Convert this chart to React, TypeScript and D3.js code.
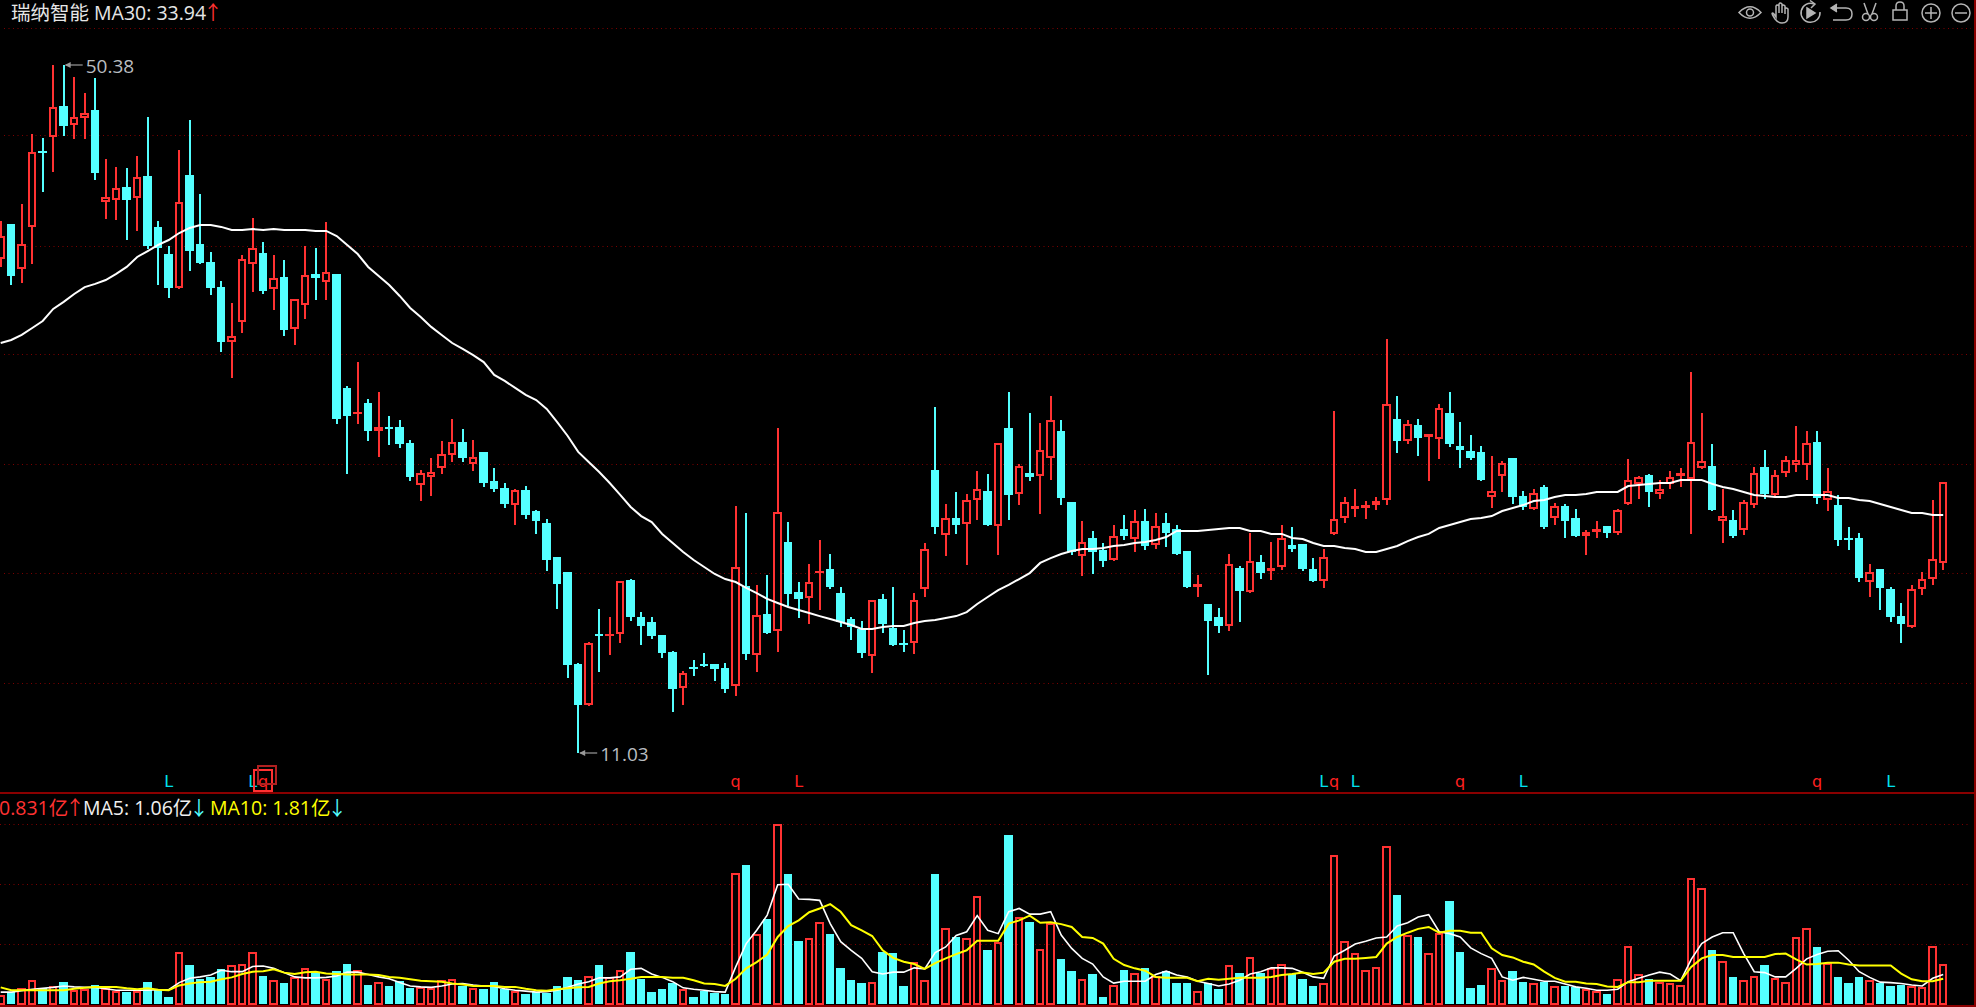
import React, { useEffect, useRef } from 'react';
import * as d3 from 'd3';

const highs = [
  41.46,41.29,42.43,46.43,46.21,50.38,50.38,49.69,48.78,49.64,
  45.00,44.55,44.49,45.18,47.41,41.46,40.03,45.52,47.23,43.00,
  39.68,38.02,36.77,39.51,41.63,40.26,39.51,39.23,36.98,40.03,
  39.91,41.40,38.43,32.02,33.39,31.28,31.68,30.30,30.08,28.93,
  27.22,27.90,28.87,30.13,29.56,28.93,28.25,27.33,26.47,26.13,
  26.30,24.93,24.41,22.24,21.38,16.18,17.38,19.27,18.81,20.87,
  20.98,19.09,18.81,17.78,16.86,15.72,16.35,16.75,16.12,16.18,
  25.16,24.76,20.64,21.21,29.62,24.24,20.81,21.84,23.21,22.41,
  20.52,18.81,18.58,19.78,20.12,20.52,18.06,20.18,23.04,30.82,
  25.27,25.96,25.84,27.16,26.99,28.76,31.68,27.56,30.48,29.90,
  31.45,30.08,25.39,24.30,23.73,23.04,24.07,24.64,24.93,24.99,
  24.76,24.76,24.07,22.58,21.21,19.55,19.32,22.41,21.72,23.61,
  22.35,23.10,24.07,23.96,22.98,22.18,22.70,30.59,25.67,26.13,
  25.44,25.67,34.71,31.45,30.08,30.13,29.28,30.99,31.68,29.96,
  29.22,28.59,28.02,27.73,27.90,26.01,26.13,26.36,25.33,25.27,
  24.99,23.78,24.30,24.01,24.99,27.85,26.87,26.99,26.64,27.16,
  27.33,32.82,30.48,28.70,26.13,24.93,25.50,27.39,28.36,27.22,
  28.02,29.73,29.45,29.45,27.33,25.79,23.96,23.61,21.84,21.55,
  20.52,19.61,20.64,21.38,25.50,26.53,
];

const lows = [
  38.85,37.80,37.93,39.00,43.12,44.26,46.32,46.15,46.15,43.80,
  41.57,41.51,40.37,40.88,39.85,37.80,37.05,37.57,38.60,39.00,
  37.22,33.96,32.47,35.03,37.39,37.28,36.36,34.88,34.36,35.85,
  36.94,36.94,29.85,26.99,29.85,28.87,27.96,28.65,28.47,26.59,
  25.44,25.73,26.99,27.67,27.67,27.16,26.24,25.96,25.04,24.07,
  24.41,23.56,21.44,19.27,15.32,11.03,13.72,15.66,16.63,17.32,
  18.58,17.21,17.55,16.46,13.37,13.77,15.43,15.95,15.15,14.46,
  14.29,16.35,15.66,17.84,16.81,19.44,18.75,18.41,19.21,20.41,
  18.24,17.49,16.46,15.60,17.89,17.15,16.81,16.69,19.95,23.56,
  22.30,23.56,21.78,24.36,24.01,22.35,24.36,25.21,26.59,24.70,
  26.64,25.21,22.35,21.15,21.27,21.67,22.01,23.21,22.53,22.64,
  22.70,22.81,22.35,20.47,19.95,15.49,17.89,18.01,18.52,20.18,
  20.98,20.92,21.50,22.53,21.44,20.81,20.47,23.50,24.18,24.53,
  24.41,24.93,25.21,28.19,28.70,28.02,26.59,27.85,28.53,27.33,
  27.79,26.59,25.04,25.96,25.27,24.93,24.93,23.84,24.07,23.33,
  23.38,22.35,23.33,23.33,23.50,25.21,25.56,25.10,25.56,26.13,
  26.24,23.56,27.27,24.87,23.04,23.33,23.50,25.04,25.56,25.73,
  26.82,27.10,26.64,25.27,24.87,22.87,22.64,20.81,19.95,19.21,
  18.52,17.32,18.18,20.07,20.64,21.50,
];

const opens = [
  39.29,41.29,38.73,41.13,45.46,46.28,48.04,46.93,47.33,47.81,
  42.52,42.64,43.40,42.79,44.03,41.11,39.57,37.62,44.09,40.14,
  39.11,37.68,34.55,35.66,39.02,39.63,37.57,38.25,35.30,36.67,
  38.42,37.99,38.43,31.91,30.44,31.05,29.45,29.68,29.68,28.76,
  26.36,26.82,27.33,28.07,28.82,27.56,28.25,26.59,26.19,25.21,
  26.07,24.87,24.18,22.24,21.38,16.12,13.77,17.84,17.72,17.84,
  20.92,18.81,18.52,17.78,16.81,14.75,15.95,16.12,16.12,15.89,
  14.86,20.58,16.63,18.98,18.01,23.10,20.24,19.89,21.32,21.55,
  20.18,18.69,18.12,16.58,19.84,18.18,17.32,17.32,20.41,27.22,
  23.50,24.47,24.13,25.50,26.01,24.01,29.62,25.84,27.04,26.87,
  27.90,29.45,25.39,22.30,23.33,22.64,22.07,23.84,23.27,24.30,
  22.93,24.18,23.84,22.58,20.52,19.55,18.81,18.29,21.61,20.24,
  21.95,21.50,21.67,22.93,22.98,21.55,20.87,23.56,24.47,24.99,
  25.10,25.21,25.50,30.13,28.87,29.79,29.11,28.99,30.48,28.59,
  28.30,28.25,25.67,26.87,27.90,25.73,24.99,26.24,24.47,25.16,
  24.47,23.44,23.73,24.01,23.61,25.27,26.42,26.93,25.84,26.42,
  26.87,26.70,27.33,27.44,24.30,24.36,23.78,25.21,27.39,25.79,
  27.04,27.50,27.50,28.82,25.50,25.21,23.33,23.33,20.81,21.55,
  20.41,18.86,18.24,20.41,20.98,21.90,
];

const closes = [
  40.62,38.31,40.12,45.42,45.35,48.00,46.89,47.43,47.65,44.20,
  42.85,43.35,42.66,43.99,40.03,39.91,37.62,42.52,39.74,39.03,
  37.62,34.53,34.90,39.26,39.93,37.45,38.21,35.22,36.98,38.39,
  38.20,38.56,30.13,30.30,30.55,29.45,29.68,29.56,28.70,26.82,
  27.04,27.10,28.13,28.82,27.90,27.96,26.47,26.13,25.27,26.07,
  24.64,24.30,22.07,20.70,16.06,13.77,17.32,17.72,17.84,20.87,
  18.81,18.29,17.72,16.75,14.69,15.60,15.83,16.00,15.83,14.69,
  21.67,16.69,18.92,17.89,24.81,20.12,19.84,20.81,21.44,20.52,
  18.52,18.24,16.75,19.78,18.41,17.21,17.21,19.78,22.70,23.96,
  24.47,24.07,25.50,26.13,24.07,28.76,25.79,27.44,26.82,28.36,
  30.08,25.61,22.53,23.10,22.53,22.01,23.44,23.44,24.30,22.87,
  24.01,23.61,22.41,20.52,20.70,18.58,18.29,21.84,20.29,22.01,
  21.32,21.61,23.33,22.70,21.55,20.87,22.24,24.41,25.39,25.16,
  25.21,25.44,30.99,28.87,29.85,29.05,29.28,30.76,28.70,28.36,
  27.90,26.64,26.01,27.62,25.67,25.10,25.90,23.96,25.16,24.30,
  23.44,23.67,23.84,23.61,24.93,26.64,26.82,25.96,26.13,26.82,
  27.04,28.82,27.73,24.93,24.58,23.44,25.39,27.04,25.84,26.93,
  27.79,27.79,28.76,25.61,26.01,23.21,23.21,21.04,21.38,20.47,
  18.81,18.41,20.41,20.98,22.13,26.53,
];

const ma30 = [
  34.48,34.65,34.94,35.34,35.74,36.43,36.83,37.28,37.68,37.86,
  38.08,38.43,38.83,39.40,39.74,40.09,40.37,40.77,41.06,41.23,
  41.23,41.12,40.94,40.94,41.00,40.94,41.00,40.94,40.94,40.94,
  40.89,40.89,40.60,40.09,39.57,38.83,38.31,37.80,37.17,36.48,
  35.97,35.40,34.94,34.48,34.14,33.79,33.39,32.65,32.31,31.91,
  31.51,31.22,30.71,29.96,29.16,28.25,27.67,27.10,26.47,25.79,
  25.10,24.58,24.24,23.56,23.04,22.53,22.07,21.67,21.27,20.98,
  20.81,20.47,20.18,19.84,19.61,19.38,19.21,19.04,18.86,18.69,
  18.52,18.35,18.12,18.12,18.24,18.29,18.29,18.46,18.58,18.64,
  18.75,18.86,19.09,19.55,19.95,20.35,20.64,20.98,21.32,21.90,
  22.18,22.41,22.58,22.70,22.70,22.75,22.87,22.93,23.04,23.10,
  23.21,23.38,23.73,23.73,23.73,23.78,23.84,23.90,23.90,23.73,
  23.73,23.56,23.56,23.33,23.27,23.04,22.87,22.87,22.75,22.70,
  22.53,22.53,22.70,22.87,23.15,23.38,23.56,23.90,24.07,24.24,
  24.41,24.47,24.58,24.87,25.04,25.21,25.44,25.50,25.67,25.79,
  25.79,25.84,25.96,25.96,25.96,26.30,26.36,26.42,26.47,26.47,
  26.64,26.64,26.64,26.42,26.24,26.13,25.96,25.79,25.73,25.67,
  25.67,25.79,25.79,25.79,25.79,25.61,25.61,25.50,25.44,25.27,
  25.10,24.93,24.76,24.76,24.64,24.64,
];

// volume, in 亿
const volumes = [
  .189,.259,.329,.497,.329,.371,.462,.287,.308,.392,
  .329,.266,.259,.266,.462,.294,.140,1.085,.819,.518,
  .567,.728,.812,.833,1.085,.588,.497,.441,.560,.749,
  .644,.518,.693,.840,.707,.399,.455,.378,.483,.336,
  .350,.336,.497,.518,.378,.329,.308,.462,.308,.266,
  .210,.252,.231,.378,.567,.504,.581,.819,.560,.707,
  1.092,.525,.252,.315,.441,.308,.147,.273,.231,.210,
  2.765,2.919,1.463,1.785,3.794,2.730,1.323,1.379,1.715,1.470,
  .756,.504,.441,.455,1.092,1.071,.378,.889,.497,2.730,
  1.589,1.407,1.379,2.282,1.134,1.309,3.549,1.820,1.722,1.148,
  1.694,.945,.693,.518,.630,.147,.392,.714,.644,.756,
  .595,.693,.441,.441,.266,.441,.315,.812,.651,.994,
  .644,.763,.833,.630,.525,.378,.434,3.143,1.330,1.078,
  .707,.770,3.332,2.289,1.442,1.407,1.064,1.484,2.163,1.092,
  .336,.399,.749,.497,.693,.462,.434,.469,.371,.378,
  .364,.322,.266,.210,.518,1.211,.623,.525,.455,.434,
  .392,2.660,2.450,1.134,.896,.567,.497,.581,.819,.539,
  .455,1.400,1.589,1.197,.854,.567,.441,.567,.497,.441,
  .378,.399,.378,.350,1.211,.833,
];

const volMa5 = [
  .25,.25,.28,.31,.33,.35,.38,.36,.35,.35,
  .32,.29,.29,.29,.29,.30,.30,.45,.54,.57,
  .61,.71,.68,.68,.79,.80,.75,.66,.57,.55,
  .55,.56,.59,.67,.67,.62,.57,.53,.45,.38,
  .36,.35,.38,.42,.43,.40,.38,.37,.32,.29,
  .27,.25,.26,.29,.35,.42,.47,.55,.55,.57,
  .73,.75,.63,.56,.47,.34,.31,.29,.26,.25,
  .78,1.27,1.55,1.87,2.51,2.52,2.21,2.20,2.18,1.69,
  1.31,1.13,.96,.68,.63,.67,.67,.76,.74,1.08,
  1.20,1.44,1.52,1.86,1.55,1.48,1.94,2.01,1.89,1.89,
  1.94,1.45,1.17,.96,.84,.57,.44,.48,.48,.48,
  .62,.69,.61,.57,.48,.43,.38,.42,.50,.63,
  .68,.76,.76,.75,.67,.57,.54,1.01,1.13,1.26,
  1.32,1.39,1.41,1.64,1.71,1.83,1.88,1.52,1.48,1.41,
  1.18,1.06,.96,.57,.50,.56,.52,.48,.48,.42,
  .36,.33,.29,.29,.31,.47,.54,.61,.67,.63,
  .49,.94,1.27,1.41,1.50,1.50,1.06,.68,.66,.57,
  .57,.75,.95,1.04,1.11,1.12,.92,.68,.56,.46,
  .45,.43,.40,.38,.54,.62,
];

const volMa10 = [
  .35,.29,.29,.29,.29,.29,.29,.32,.34,.36,
  .36,.36,.33,.31,.33,.30,.29,.39,.43,.46,
  .47,.52,.56,.63,.68,.69,.73,.66,.63,.67,
  .68,.64,.63,.62,.62,.62,.61,.57,.55,.52,
  .49,.48,.47,.43,.41,.38,.38,.38,.36,.36,
  .32,.29,.28,.31,.33,.35,.36,.43,.48,.50,
  .53,.57,.57,.57,.55,.55,.50,.43,.42,.38,
  .53,.75,.88,1.04,1.41,1.64,1.76,1.93,2.01,2.10,
  1.94,1.66,1.55,1.43,1.13,.97,.89,.84,.74,.86,
  .96,1.05,1.13,1.33,1.33,1.33,1.69,1.76,1.86,1.71,
  1.72,1.68,1.62,1.41,1.39,1.27,.95,.82,.75,.70,
  .57,.55,.55,.55,.48,.53,.51,.53,.55,.55,
  .55,.57,.61,.63,.66,.63,.66,.89,.95,.95,
  .97,.99,1.27,1.41,1.50,1.58,1.62,1.50,1.54,1.54,
  1.50,1.50,1.17,1.03,.98,.89,.83,.68,.55,.47,
  .47,.43,.42,.37,.36,.46,.46,.49,.49,.49,
  .49,.78,.96,1.03,1.03,.99,.99,.99,.99,1.05,
  1.06,.94,.83,.84,.87,.87,.83,.81,.81,.81,
  .81,.64,.52,.48,.48,.53,
];

const priceGrid = [52.52, 46.35, 40.05, 33.84, 27.54, 21.31, 15.02];
const volumeGrid = [1.26, 2.52, 3.78];

// buy / sell letters under the candles: index into the candle arrays
const letterIndex = [16, 24, 25, 70, 76, 126, 127, 129, 139, 145, 173, 180];
const letterText = ['L', 'L', 'q', 'q', 'L', 'L', 'q', 'L', 'q', 'L', 'q', 'L'];
const letterIsRed = [false, false, true, true, true, false, true, false, true, false, true, false];

const RED = '#ff3232';
const CYAN = '#54ffff';
const GRID = '#7d0000';
const UI_FONT = "'Open Sans','Noto Sans CJK SC',sans-serif";

export default function App() {
  const svgRef = useRef<SVGSVGElement>(null);

  useEffect(() => {
    if (!svgRef.current) return;
    const svg = d3.select(svgRef.current);
    svg.selectAll('*').remove();

    const n = highs.length;
    const x = d3.scaleLinear().domain([0, n - 1]).range([0.7, 1943.2]);
    const yPrice = d3.scaleLinear().domain([11.03, 50.38]).range([753, 65]);
    const yVol = d3.scaleLinear().domain([0, 3.78]).range([1004, 824.3]);
    const idx = d3.range(n);

    svg.append('rect').attr('width', 1976).attr('height', 1007).attr('fill', '#000');

    // Grid
    svg.selectAll('.gp').data(priceGrid).enter().append('line')
      .attr('x1', 4).attr('x2', 1971)
      .attr('y1', d => Math.round(yPrice(d)) + 0.5).attr('y2', d => Math.round(yPrice(d)) + 0.5)
      .attr('stroke', GRID).attr('stroke-dasharray', '1 3.5');
    svg.selectAll('.gv').data(volumeGrid).enter().append('line')
      .attr('x1', 0).attr('x2', 1971)
      .attr('y1', d => Math.round(yVol(d)) + 0.5).attr('y2', d => Math.round(yVol(d)) + 0.5)
      .attr('stroke', GRID).attr('stroke-dasharray', '1 3.5');

    // Panel frame
    svg.append('rect').attr('x', 0).attr('y', 792).attr('width', 1976).attr('height', 2).attr('fill', '#8a0000');
    svg.append('rect').attr('x', 0).attr('y', 1005).attr('width', 1976).attr('height', 2).attr('fill', '#8a0000');
    svg.append('rect').attr('x', 1974).attr('y', 0).attr('width', 2).attr('height', 1007).attr('fill', '#8a0000');

    // Wicks
    const candles = svg.append('g').attr('shape-rendering', 'crispEdges');
    candles.selectAll('.wick').data(idx).enter().append('rect')
      .attr('x', i => x(i) - 1)
      .attr('width', 2)
      .attr('y', i => yPrice(highs[i]))
      .attr('height', i => yPrice(lows[i]) - yPrice(highs[i]))
      .attr('fill', i => (closes[i] > opens[i] ? RED : CYAN));

    // Bodies: red is hollow, cyan is filled
    candles.selectAll('.body').data(idx).enter().append('rect')
      .attr('x', i => (closes[i] > opens[i] ? x(i) - 3.25 : x(i) - 4.25))
      .attr('width', i => (closes[i] > opens[i] ? 6.5 : 8.5))
      .attr('y', i => {
        const top = yPrice(Math.max(opens[i], closes[i]));
        return closes[i] > opens[i] ? top + 1 : top;
      })
      .attr('height', i => {
        const h = Math.abs(yPrice(opens[i]) - yPrice(closes[i]));
        return closes[i] > opens[i] ? Math.max(h - 2, 0.5) : Math.max(h, 2);
      })
      .attr('fill', i => (closes[i] > opens[i] ? '#000' : CYAN))
      .attr('stroke', i => (closes[i] > opens[i] ? RED : 'none'))
      .attr('stroke-width', 2);

    // MA30
    const priceLine = d3.line<number>().x((d, i) => x(i)).y(d => yPrice(d));
    svg.append('path').attr('d', priceLine(ma30)).attr('fill', 'none').attr('stroke', '#fff').attr('stroke-width', 2);

    // Extreme price labels
    const extremes = [
      { i: 6, price: 50.38, label: '50.38' },
      { i: 55, price: 11.03, label: '11.03' },
    ];
    extremes.forEach(e => {
      const ex = x(e.i);
      const ey = yPrice(e.price);
      svg.append('line').attr('x1', ex + 2).attr('x2', ex + 19).attr('y1', ey).attr('y2', ey).attr('stroke', '#9a9a9a').attr('stroke-width', 1.2);
      svg.append('path').attr('d', `M${ex + 1},${ey} l6,-3 v6 z`).attr('fill', '#9a9a9a');
      svg.append('text').attr('x', ex + 22).attr('y', ey + 8)
        .attr('font-family', UI_FONT).attr('font-size', 19).attr('fill', '#b9bdc0').text(e.label);
    });

    // Letters
    svg.selectAll('.letter').data(letterIndex).enter().append('text')
      .attr('x', d => x(d))
      .attr('y', 787)
      .attr('text-anchor', 'middle')
      .attr('font-family', "'DejaVu Sans',sans-serif")
      .attr('font-size', 16)
      .attr('fill', (d, i) => (letterIsRed[i] ? '#ff2020' : '#00e0f0'))
      .text((d, i) => letterText[i]);
    svg.append('rect').attr('x', 254).attr('y', 770).attr('width', 18).attr('height', 21).attr('fill', 'none').attr('stroke', RED).attr('stroke-width', 2);
    svg.append('rect').attr('x', 258).attr('y', 766).attr('width', 18).attr('height', 18).attr('fill', 'none').attr('stroke', '#b02020').attr('stroke-width', 2);

    // Volume bars
    const vols = svg.append('g').attr('shape-rendering', 'crispEdges');
    vols.selectAll('.bar').data(idx).enter().append('rect')
      .attr('x', i => (closes[i] > opens[i] ? x(i) - 3.25 : x(i) - 4.25))
      .attr('width', i => (closes[i] > opens[i] ? 6.5 : 8.5))
      .attr('y', i => (closes[i] > opens[i] ? yVol(volumes[i]) + 1 : yVol(volumes[i])))
      .attr('height', i => (closes[i] > opens[i] ? yVol(0) - yVol(volumes[i]) - 1 : yVol(0) - yVol(volumes[i])))
      .attr('fill', i => (closes[i] > opens[i] ? 'none' : CYAN))
      .attr('stroke', i => (closes[i] > opens[i] ? RED : 'none'))
      .attr('stroke-width', 2);

    const volLine = d3.line<number>().x((d, i) => x(i)).y(d => yVol(d));
    svg.append('path').attr('d', volLine(volMa5)).attr('fill', 'none').attr('stroke', '#fff').attr('stroke-width', 1.6);
    svg.append('path').attr('d', volLine(volMa10)).attr('fill', 'none').attr('stroke', '#ffff00').attr('stroke-width', 2);

    // Header
    const header = svg.append('text').attr('x', 11).attr('y', 20)
      .attr('font-family', UI_FONT).attr('font-size', 19.5).attr('fill', '#e6e6e6');
    header.append('tspan').text('瑞纳智能 MA30: 33.94');
    header.append('tspan').attr('fill', RED).attr('dx', -3).text('↑');

    // Volume legend
    const legend = [
      { x0: -1, color: RED, label: '0.831亿', arrow: '↑', arrowColor: RED },
      { x0: 83, color: '#f0f0f0', label: 'MA5: 1.06亿', arrow: '↓', arrowColor: CYAN },
      { x0: 210, color: '#ffff00', label: 'MA10: 1.81亿', arrow: '↓', arrowColor: CYAN },
    ];
    legend.forEach(l => {
      const t = svg.append('text').attr('x', l.x0).attr('y', 815)
        .attr('font-family', UI_FONT).attr('font-size', 19.5).attr('fill', l.color);
      t.append('tspan').text(l.label);
      t.append('tspan').attr('fill', l.arrowColor).attr('dx', -3).text(l.arrow);
    });

    // Toolbar icons
    const icons = svg.append('g').attr('fill', 'none').attr('stroke', '#b4b4b4').attr('stroke-width', 1.5);
    icons.append('path').attr('d', 'M1739,12.5 Q1750,1 1761,12.5 Q1750,24 1739,12.5 Z');
    icons.append('circle').attr('cx', 1750).attr('cy', 12.5).attr('r', 3.5);
    icons.append('path').attr('d', 'M1772,14 l3,5 q3,4 7,4 q6,0 6,-6 v-8 q-2,-2 -3,0 v5 v-8 q-2,-2 -3,0 v7 v-9 q-2,-2 -3,0 v9 v-7 q-2,-2 -3,0 v11 l-2,-3 q-2,-2 -2,0');
    icons.append('path').attr('d', 'M1814,4 A9.5,9.5 0 1 0 1820,12');
    icons.append('path').attr('d', 'M1810,0.5 l5,3.5 l-4,4');
    icons.append('path').attr('d', 'M1807,8 l8,5 l-8,5 z').attr('fill', '#b4b4b4');
    icons.append('path').attr('d', 'M1832,8 h14 q6,0 6,6 q0,6 -6,6 h-13');
    icons.append('path').attr('d', 'M1837,4 l-6,4 l6,4').attr('fill', '#b4b4b4');
    icons.append('circle').attr('cx', 1866).attr('cy', 17).attr('r', 3.5);
    icons.append('circle').attr('cx', 1874).attr('cy', 17).attr('r', 3.5);
    icons.append('path').attr('d', 'M1868,14 L1864,3 M1872,14 L1876,3');
    icons.append('rect').attr('x', 1893).attr('y', 10).attr('width', 14).attr('height', 10);
    icons.append('path').attr('d', 'M1896,10 v-4 q0,-4 4,-4 q4,0 4,4 v4');
    icons.append('circle').attr('cx', 1931).attr('cy', 13).attr('r', 9);
    icons.append('path').attr('d', 'M1925,13 h12 M1931,7 v12');
    icons.append('circle').attr('cx', 1961).attr('cy', 13).attr('r', 9);
    icons.append('path').attr('d', 'M1955,13 h12');
  }, []);

  return (
    <svg
      ref={svgRef}
      width={1976}
      height={1007}
      style={{ position: 'absolute', left: 0, top: 0, display: 'block' }}
    />
  );
}
